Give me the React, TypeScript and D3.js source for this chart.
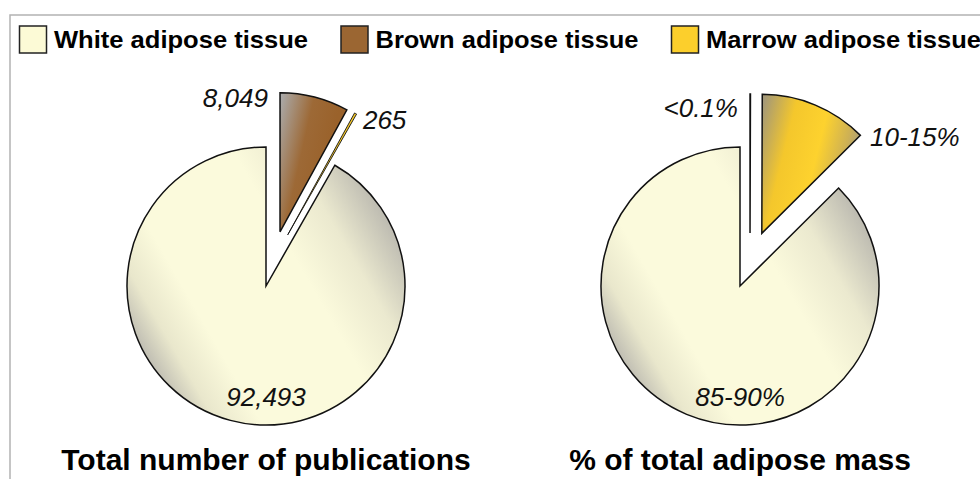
import React, { useEffect, useRef } from 'react';
import * as d3 from 'd3';

// tissue categories (legend order)
const categories = ['White adipose tissue', 'Brown adipose tissue', 'Marrow adipose tissue'];
const categoryColors = ['#fcfad6', '#9b6632', '#fccf2c'];

// left pie: number of publications
const publicationValues = [92493, 8049, 265];
const publicationLabels = ['92,493', '8,049', '265'];

// right pie: share of total adipose mass (midpoints of the quoted ranges)
const massValues = [87.45, 0.05, 12.5];
const massLabels = ['85-90%', '<0.1%', '10-15%'];

const panelTitles = ['Total number of publications', '% of total adipose mass'];

// slices go clockwise from 12 o'clock: brown, marrow, white
const sliceOrder = [1, 2, 0];

const WIDTH = 980;
const HEIGHT = 479;
const RADIUS = 139;
const FONT = '"Liberation Sans", Arial, Helvetica, sans-serif';

interface Polar { dist: number; dir: number }
interface LabelPos { angle: number; r: number; anchor: string }
interface Panel {
  values: number[];
  labels: string[];
  cx: number;
  cy: number;
  explode: Polar[];
  labelPos: LabelPos[];
  marrowFill: string;
  marrowStroke: number;
}

const panels: Panel[] = [
  {
    values: publicationValues,
    labels: publicationLabels,
    cx: 266,
    cy: 286,
    explode: [{ dist: 0, dir: 0 }, { dist: 56, dir: 14.5 }, { dist: 55.6, dir: 23 }],
    labelPos: [
      { angle: 180, r: 120, anchor: 'middle' },
      { angle: 0.6, r: 179, anchor: 'end' },
      { angle: 31.7, r: 184.5, anchor: 'start' },
    ],
    marrowFill: '#f7c928',
    marrowStroke: 0.9,
  },
  {
    values: massValues,
    labels: massLabels,
    cx: 740,
    cy: 286,
    explode: [{ dist: 0, dir: 0 }, { dist: 54, dir: 10.7 }, { dist: 57, dir: 22.5 }],
    labelPos: [
      { angle: 180, r: 120, anchor: 'middle' },
      { angle: -0.7, r: 169, anchor: 'end' },
      { angle: 42.9, r: 191, anchor: 'start' },
    ],
    marrowFill: 'url(#marrowGrad)',
    marrowStroke: 1.5,
  },
];

const polar = (deg: number, r: number): [number, number] => {
  const a = (deg * Math.PI) / 180;
  return [Math.sin(a) * r, -Math.cos(a) * r];
};

export default function App() {
  const svgRef = useRef<SVGSVGElement>(null);

  useEffect(() => {
    if (!svgRef.current) return;
    const svg = d3.select(svgRef.current);
    svg.selectAll('*').remove();

    // gradients
    const defs = svg.append('defs');
    const addGrad = (id: string, x1: number, y1: number, x2: number, y2: number, stops: [number, string][]) => {
      const g = defs.append('linearGradient')
        .attr('id', id)
        .attr('x1', x1).attr('y1', y1).attr('x2', x2).attr('y2', y2);
      stops.forEach(([o, c]) => g.append('stop').attr('offset', o).attr('stop-color', c));
    };
    addGrad('whiteGrad', 0.933, 0.25, 0.067, 0.75, [
      [0, '#bdbbb1'], [0.18, '#ebe9cf'], [0.36, '#fbfadc'], [0.76, '#fbfadc'], [0.9, '#e9e7cc'], [1, '#c0beb3'],
    ]);
    addGrad('brownGrad', 0, 0.05, 0.75, 0.4, [
      [0, '#aaaaaa'], [0.55, '#9d6936'], [1, '#9a622b'],
    ]);
    addGrad('marrowGrad', 0, 0.1, 1, 0.45, [
      [0, '#a39878'], [0.3, '#f4c72c'], [0.6, '#fdd22e'], [0.85, '#cdb055'], [1, '#a09a86'],
    ]);

    // frame
    svg.append('path')
      .attr('d', `M10,${HEIGHT} V15 H${WIDTH}`)
      .attr('fill', 'none')
      .attr('stroke', '#b3b3b3')
      .attr('stroke-width', 1.5);

    // legend
    const legendTextWidths = [254, 263, 275];
    let lx = 19.5;
    categories.forEach((name, i) => {
      svg.append('rect')
        .attr('x', lx).attr('y', 26)
        .attr('width', 27).attr('height', 27)
        .attr('fill', categoryColors[i])
        .attr('stroke', '#222')
        .attr('stroke-width', 1.5);
      svg.append('text')
        .attr('x', lx + 34.5).attr('y', 47.5)
        .attr('font-family', FONT)
        .attr('font-weight', 'bold')
        .attr('font-size', 24)
        .attr('textLength', legendTextWidths[i])
        .attr('lengthAdjust', 'spacingAndGlyphs')
        .attr('fill', '#000')
        .text(name);
      lx += 34.5 + legendTextWidths[i] + 33;
    });

    const arc = d3.arc<d3.PieArcDatum<number>>().innerRadius(0).outerRadius(RADIUS);
    const fills = (p: Panel) => ['url(#whiteGrad)', 'url(#brownGrad)', p.marrowFill];

    panels.forEach((p, pi) => {
      const pie = d3.pie<number>()
        .sort(null)
        .value(i => p.values[i])
        .startAngle(0)
        .endAngle(2 * Math.PI);
      const arcs = pie(sliceOrder);

      const g = svg.append('g').attr('transform', `translate(${p.cx},${p.cy})`);

      g.selectAll('path')
        .data(arcs)
        .enter()
        .append('path')
        .attr('transform', d => {
          const e = p.explode[d.data];
          const [dx, dy] = polar(e.dir, e.dist);
          return `translate(${dx},${dy})`;
        })
        .attr('d', arc)
        .attr('fill', d => fills(p)[d.data])
        .attr('stroke', '#111')
        .attr('stroke-width', d => (d.data === 2 ? p.marrowStroke : 1.5))
        .attr('stroke-linejoin', 'miter');

      // value labels
      g.selectAll('text.value')
        .data(arcs)
        .enter()
        .append('text')
        .attr('class', 'value')
        .attr('x', d => polar(p.labelPos[d.data].angle, p.labelPos[d.data].r)[0])
        .attr('y', d => polar(p.labelPos[d.data].angle, p.labelPos[d.data].r)[1])
        .attr('text-anchor', d => p.labelPos[d.data].anchor)
        .attr('font-family', FONT)
        .attr('font-style', 'italic')
        .attr('font-size', 26)
        .attr('fill', '#111')
        .text(d => p.labels[d.data]);

      // panel title
      svg.append('text')
        .attr('x', p.cx)
        .attr('y', 470)
        .attr('text-anchor', 'middle')
        .attr('font-family', FONT)
        .attr('font-weight', 'bold')
        .attr('font-size', 30)
        .attr('fill', '#000')
        .text(panelTitles[pi]);
    });
  }, []);

  return (
    <svg
      ref={svgRef}
      width={WIDTH}
      height={HEIGHT}
      style={{ position: 'absolute', left: 0, top: 0, background: '#fff' }}
    />
  );
}
